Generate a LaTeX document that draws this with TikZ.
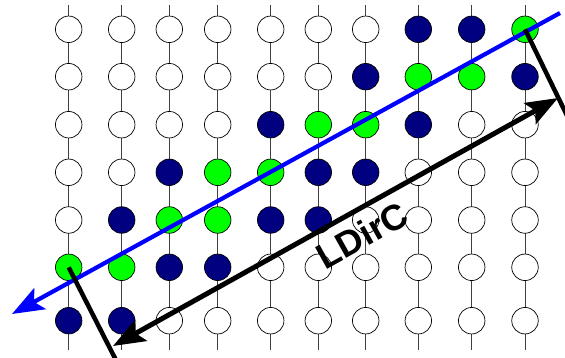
\documentclass[tikz,border=0pt]{standalone}
\usepackage{fontspec}
\setsansfont{Liberation Sans}
\usetikzlibrary{arrows.meta}
\definecolor{dotn}{RGB}{0,0,128}
\definecolor{dotg}{RGB}{0,255,0}
\colorlet{dotw}{white}
\definecolor{scanblue}{RGB}{0,0,255}
\tikzset{
  rail/.style={black!75,line width=0.9pt},
  dot/.style={circle,draw=black,line width=0.7pt,minimum size=26.5pt,inner sep=0pt},
  scan/.style={scanblue,line width=4.2pt,-{Stealth[length=32pt,width=24pt,inset=7pt]}},
  span/.style={black,line width=5pt,
               {Stealth[length=32pt,width=24pt,inset=6pt]}-{Stealth[length=32pt,width=24pt,inset=6pt]}},
  tick/.style={black,line width=4.5pt},
  lbl/.style={font=\sffamily\bfseries\fontsize{36}{36}\selectfont,rotate=29.2,inner sep=0pt}
}
\begin{document}
\begin{tikzpicture}[x=1pt,y=-1pt]
  \useasboundingbox (0,0) rectangle (565,358);
  % Columns of cells, colours listed top to bottom.
  \foreach \x/\pat [count=\c] in {68.7/{w,w,w,w,w,g,n},121.7/{w,w,w,w,n,g,n},169.3/{w,w,w,n,g,n,w},
      217.7/{w,w,w,g,g,n,w},270.7/{w,w,n,g,n,w,w},318.3/{w,w,g,n,n,w,w},365.7/{w,n,g,n,w,w,w},
      418.3/{n,g,n,w,w,w,w},471.7/{n,g,w,w,w,w,w},525/{g,n,w,w,w,w,w}} {
    \coordinate (top\c) at (\x,5);
    \coordinate (bot\c) at (\x,350);
    \draw[rail] (top\c) -- (bot\c);
    \foreach \k [count=\r] in \pat {
      \pgfmathsetmacro\y{{29.3,76.7,124.7,172.3,220,267.3,320.7}[\r-1]}
      \node[dot,fill=dot\k] (c-\r-\c) at (\x,\y) {};
    }
  }

  % Scan direction.
  \coordinate (scanA) at (560,13);
  \coordinate (scanB) at (12,314);
  \draw[scan] (scanA) -- (scanB);

  % Length marker between the two end ticks.
  \coordinate (tickA) at (575,132);
  \coordinate (tickB) at (121,370);
  \draw[tick] (c-1-10.center) -- (tickA);
  \draw[tick] (c-6-1.center) -- (tickB);
  \coordinate (spanA) at (558,98);
  \coordinate (spanB) at (113,346);
  \draw[span] (spanB) -- (spanA);
  \node[lbl] (ldirc) at (362,235) {LDirC};
\end{tikzpicture}
\end{document}
